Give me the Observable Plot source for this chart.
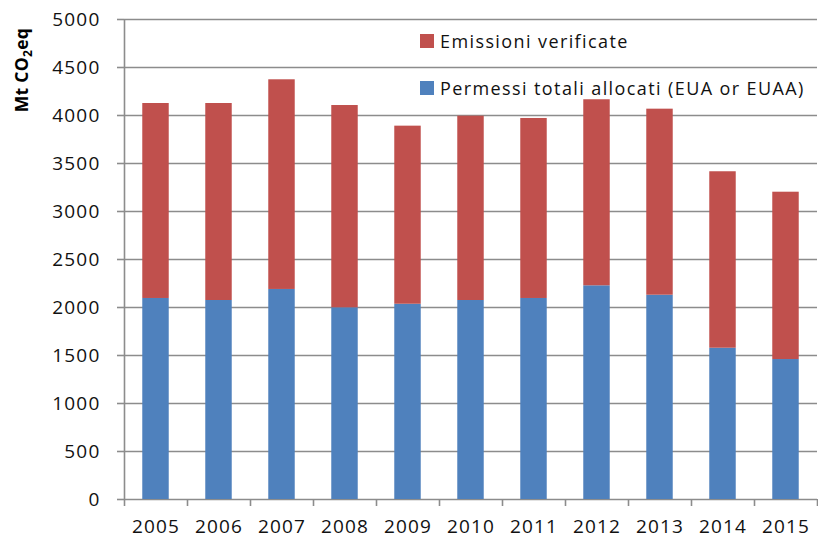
<!DOCTYPE html>
<html>
<head>
<meta charset="utf-8">
<script src="https://cdn.jsdelivr.net/npm/d3@7"></script>
<script src="https://cdn.jsdelivr.net/npm/@observablehq/plot@0.6"></script>
<style>
  html, body { margin: 0; padding: 0; background: #fff; }
  #wrap { position: relative; width: 818px; height: 542px; font-family: "Open Sans", sans-serif; }
  #wrap svg text { letter-spacing: 1.2px; }
  .legend { position: absolute; left: 420px; font-size: 18px; color: #111; display: flex; align-items: center; white-space: nowrap; letter-spacing: 1.4px; }
  .legend .sw { width: 14px; height: 14px; margin-right: 6px; }
</style>
</head>
<body>
<div id="wrap"></div>
<script>
const years = [2005, 2006, 2007, 2008, 2009, 2010, 2011, 2012, 2013, 2014, 2015];
// Permessi totali allocati (EUA or EUAA) — blue, bottom segment
const allocated = [2094, 2073, 2188, 1997, 2034, 2073, 2094, 2226, 2128, 1576, 1458];
// Emissioni verificate — red, stacked on top
const emissions = [2031, 2052, 2184, 2107, 1855, 1920, 1875, 1938, 1938, 1838, 1743];
const yTicks = [0, 500, 1000, 1500, 2000, 2500, 3000, 3500, 4000, 4500, 5000];
const seriesNames = ["Permessi totali allocati (EUA or EUAA)", "Emissioni verificate"];
const seriesColors = ["#4F81BD", "#C0504D"];

const rows = [];
years.forEach((yr, i) => {
  rows.push({year: yr, series: seriesNames[0], y1: 0, y2: allocated[i]});
  rows.push({year: yr, series: seriesNames[1], y1: allocated[i], y2: allocated[i] + emissions[i]});
});
const half = 0.21;
const bounds = years.map(y => y - 0.5).concat([years[years.length - 1] + 0.5]);
const gridColor = "#8c8c8c";

const chart = Plot.plot({
  width: 818,
  height: 542,
  marginLeft: 124,
  marginRight: 1,
  marginTop: 19,
  marginBottom: 43,
  style: {fontFamily: "Open Sans, sans-serif", fontSize: "19px", color: "#111", background: "#fff"},
  x: {domain: [bounds[0], bounds[bounds.length - 1]], axis: null},
  y: {domain: [0, 5000], axis: null},
  color: {domain: seriesNames, range: seriesColors},
  marks: [
    Plot.ruleY(yTicks, {stroke: gridColor, strokeWidth: 1.6}),
    Plot.rectY(rows, {x1: d => d.year - half, x2: d => d.year + half, y1: "y1", y2: "y2", fill: "series"}),
    Plot.ruleX([bounds[0]], {stroke: gridColor, strokeWidth: 1.6}),
    Plot.axisY({ticks: yTicks, tickSize: 7, tickPadding: 17, tickFormat: d => String(d), stroke: gridColor, strokeWidth: 1.6, fill: "#111"}),
    Plot.axisX({ticks: bounds, tickSize: 7, tickFormat: () => "", stroke: gridColor, strokeWidth: 1.6}),
    Plot.axisX({ticks: years, tickSize: 0, tickPadding: 20, tickFormat: d => String(d), fill: "#111"})
  ]
});

const wrap = document.getElementById("wrap");
wrap.appendChild(chart);

// Y axis title with subscript
const svg = d3.select(chart);
const t = svg.append("text")
  .attr("transform", "translate(28,70) rotate(-90)")
  .attr("text-anchor", "middle")
  .attr("font-family", "Open Sans, sans-serif")
  .attr("font-weight", "bold")
  .attr("font-size", "17.5px")
  .attr("fill", "#000")
  .style("letter-spacing", "0.3px");
t.append("tspan").text("Mt CO");
t.append("tspan").attr("font-size", "12px").attr("dy", "4").text("2");
t.append("tspan").attr("dy", "-4").text("eq");

// Legend
const legendItems = [
  {name: seriesNames[1], color: seriesColors[1], top: 29},
  {name: seriesNames[0], color: seriesColors[0], top: 76}
];
legendItems.forEach(it => {
  const div = document.createElement("div");
  div.className = "legend";
  div.style.top = it.top + "px";
  const sw = document.createElement("span");
  sw.className = "sw";
  sw.style.background = it.color;
  const tx = document.createElement("span");
  tx.textContent = it.name;
  div.appendChild(sw);
  div.appendChild(tx);
  wrap.appendChild(div);
});
</script>
</body>
</html>
